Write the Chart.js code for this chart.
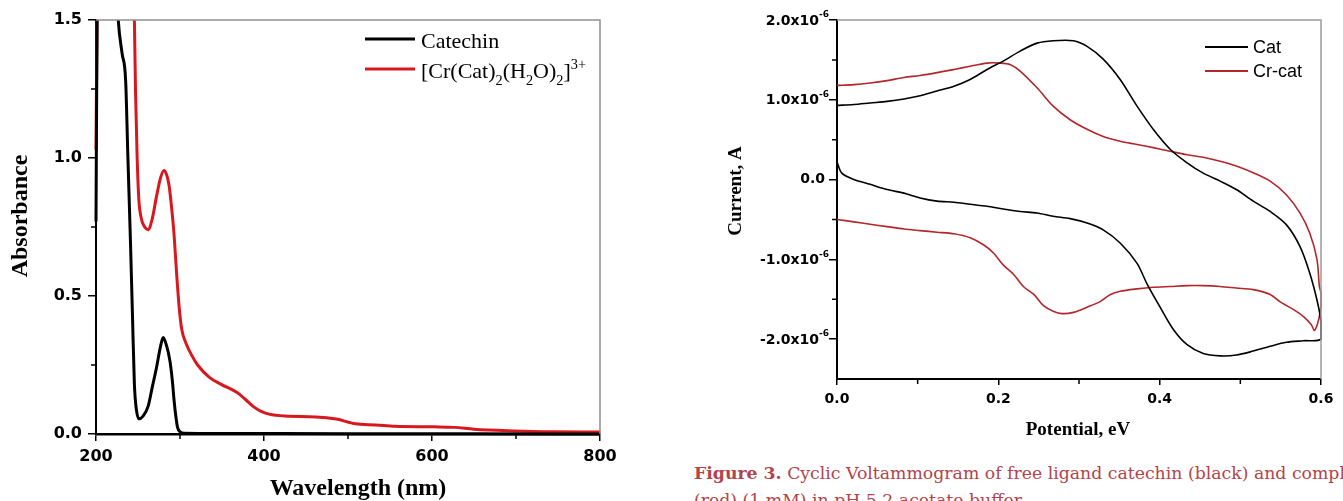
<!DOCTYPE html>
<html>
<head>
<meta charset="utf-8">
<script src="https://cdn.jsdelivr.net/npm/chart.js@4.4.0/dist/chart.umd.min.js"></script>
<style>
  body { margin: 0; background: #fff; width: 1343px; height: 501px; overflow: hidden; position: relative; }
  #uv { position: absolute; left: 0; top: 0; }
  #cv { position: absolute; left: 690px; top: 0; }
  .caption { position: absolute; left: 694px; width: 649px; white-space: nowrap; overflow: hidden;
             font-family: "DejaVu Serif", serif; font-size: 17.3px; line-height: 27px; color: #b3444a; }
  .caption b { font-weight: bold; }
</style>
</head>
<body>
<canvas id="uv" width="640" height="501"></canvas>
<canvas id="cv" width="653" height="450"></canvas>
<div class="caption" style="top:460px"><b>Figure 3.</b> Cyclic Voltammogram of free ligand catechin (black) and complex</div>
<div class="caption" style="top:487px">(red) (1 mM) in pH 5.2 acetate buffer.</div>

<script>
// UV-Vis spectra (left panel)
const catechinNm  = [200, 201.5, 205, 214, 222, 226.5, 231, 235.3, 238, 241, 243.5, 245.7, 248, 251, 256, 262, 267, 272, 277, 280, 284, 288, 291, 293, 295, 297, 300, 305, 350, 500, 650, 800];
const catechinAbs = [0.77, 1.6, 2.2, 2.2, 1.8, 1.5, 1.38, 1.28, 1.0, 0.7, 0.42, 0.18, 0.09, 0.055, 0.065, 0.10, 0.17, 0.24, 0.32, 0.35, 0.32, 0.265, 0.19, 0.12, 0.065, 0.025, 0.008, 0.003, 0.002, 0.001, 0.001, 0.0];

const complexNm  = [200, 201.5, 206, 238, 244.5, 245.7, 247, 249, 251, 254, 258, 262, 267, 272, 277, 281, 284, 287, 290, 293, 296, 299, 302, 307, 314, 321, 335, 349, 368, 378, 387, 396, 406, 425, 462, 486, 509, 533, 556, 603, 627, 650, 698, 745, 800];
const complexAbs = [1.03, 1.6, 2.4, 2.4, 1.6, 1.5, 1.25, 1.0, 0.85, 0.78, 0.75, 0.74, 0.78, 0.86, 0.93, 0.955, 0.94, 0.9, 0.82, 0.72, 0.58, 0.46, 0.38, 0.33, 0.285, 0.25, 0.205, 0.18, 0.15, 0.125, 0.10, 0.083, 0.072, 0.065, 0.062, 0.054, 0.037, 0.033, 0.028, 0.026, 0.024, 0.017, 0.011, 0.008, 0.007];

const uvMinorX = [300, 500, 700];
const uvMinorY = [0.25, 0.75, 1.25];

// Cyclic voltammograms (right panel), current in units of 1e-6 A
const catPotential = [0, 0.021, 0.041, 0.062, 0.083, 0.103, 0.124, 0.145, 0.165, 0.186, 0.206, 0.227, 0.248, 0.268, 0.293, 0.31, 0.33, 0.351, 0.372, 0.392, 0.413, 0.434, 0.454, 0.475, 0.495, 0.516, 0.537, 0.557, 0.574, 0.586, 0.595, 0.6,
                      0.6, 0.578, 0.557, 0.537, 0.516, 0.495, 0.475, 0.454, 0.434, 0.417, 0.4, 0.384, 0.372, 0.351, 0.33, 0.31, 0.289, 0.268, 0.248, 0.227, 0.206, 0.186, 0.165, 0.145, 0.124, 0.103, 0.083, 0.062, 0.041, 0.021, 0.006, 0];
const catCurrent = [0.93, 0.94, 0.96, 0.98, 1.01, 1.05, 1.11, 1.17, 1.255, 1.38, 1.485, 1.61, 1.71, 1.74, 1.74, 1.67, 1.51, 1.255, 0.92, 0.63, 0.38, 0.21, 0.08, -0.02, -0.125, -0.27, -0.40, -0.565, -0.84, -1.17, -1.51, -1.78,
                    -2.0, -2.02, -2.04, -2.09, -2.15, -2.20, -2.21, -2.18, -2.07, -1.88, -1.59, -1.30, -1.05, -0.795, -0.63, -0.545, -0.49, -0.46, -0.42, -0.40, -0.37, -0.335, -0.31, -0.285, -0.27, -0.23, -0.17, -0.125, -0.06, 0.0, 0.08, 0.22];

const crPotential = [0, 0.021, 0.041, 0.062, 0.083, 0.103, 0.124, 0.145, 0.165, 0.186, 0.202, 0.215, 0.227, 0.248, 0.268, 0.289, 0.31, 0.33, 0.351, 0.372, 0.392, 0.413, 0.434, 0.454, 0.475, 0.495, 0.516, 0.537, 0.557, 0.574, 0.586, 0.595, 0.598, 0.6,
                     0.6, 0.597, 0.592, 0.588, 0.578, 0.566, 0.549, 0.537, 0.516, 0.495, 0.475, 0.454, 0.434, 0.413, 0.392, 0.372, 0.351, 0.339, 0.326, 0.31, 0.293, 0.279, 0.268, 0.256, 0.244, 0.231, 0.219, 0.206, 0.194, 0.182, 0.165, 0.145, 0.124, 0.103, 0.083, 0.062, 0.041, 0.021, 0];
const crCurrent = [1.18, 1.19, 1.21, 1.24, 1.28, 1.305, 1.34, 1.38, 1.42, 1.46, 1.46, 1.44, 1.36, 1.15, 0.92, 0.75, 0.63, 0.54, 0.48, 0.44, 0.40, 0.355, 0.31, 0.28, 0.23, 0.17, 0.085, -0.02, -0.19, -0.42, -0.67, -1.00, -1.34, -1.42,
                   -1.59, -1.76, -1.89, -1.82, -1.715, -1.63, -1.53, -1.44, -1.38, -1.36, -1.34, -1.33, -1.33, -1.34, -1.35, -1.37, -1.40, -1.44, -1.53, -1.60, -1.665, -1.68, -1.65, -1.58, -1.44, -1.34, -1.19, -1.07, -0.92, -0.82, -0.73, -0.68, -0.66, -0.64, -0.62, -0.59, -0.56, -0.53, -0.50];

const cvMajorY = [-2, -1, 0, 1, 2];
const cvMinorX = [0.1, 0.3, 0.5];
const cvMinorY = [-1.5, -0.5, 0.5, 1.5];

function toPoints(xs, ys) {
    return xs.map((x, i) => ({ x: x, y: ys[i] }));
}

// draws a run of text pieces, some as sub/superscript
function drawRich(ctx, parts, x, y, size, family) {
    ctx.textAlign = 'left';
    ctx.textBaseline = 'alphabetic';
    parts.forEach(p => {
        let s = size, dy = 0;
        if (p[1] === 'sub') { s = size * 0.65; dy = size * 0.3; }
        if (p[1] === 'sup') { s = size * 0.65; dy = -size * 0.42; }
        ctx.font = s + 'px ' + family;
        ctx.fillText(p[0], x, y + dy);
        x += ctx.measureText(p[0]).width;
    });
}

function minorTicks(ctx, chart, xs, ys, len) {
    const a = chart.chartArea;
    const sx = chart.scales.x, sy = chart.scales.y;
    ctx.strokeStyle = '#000';
    ctx.lineWidth = 1.5;
    ctx.beginPath();
    xs.forEach(v => {
        const px = sx.getPixelForValue(v);
        ctx.moveTo(px, a.bottom); ctx.lineTo(px, a.bottom + len);
    });
    ys.forEach(v => {
        const py = sy.getPixelForValue(v);
        ctx.moveTo(a.left, py); ctx.lineTo(a.left - len, py);
    });
    ctx.stroke();
}

function frame(ctx, chart, color) {
    const a = chart.chartArea;
    ctx.strokeStyle = color;
    ctx.lineWidth = 1.5;
    ctx.beginPath();
    ctx.moveTo(a.left, a.top); ctx.lineTo(a.right, a.top); ctx.lineTo(a.right, a.bottom);
    ctx.stroke();
}

const tickFont = { family: "'DejaVu Sans', sans-serif", weight: 'bold', size: 16 };

const uvDecor = {
    id: 'uvDecor',
    afterDraw(chart) {
        const ctx = chart.ctx;
        ctx.save();
        frame(ctx, chart, '#8e8e8e');
        minorTicks(ctx, chart, uvMinorX, uvMinorY, 5);

        ctx.fillStyle = '#000';
        ctx.font = 'bold 24px "Liberation Serif"';
        ctx.textAlign = 'center';
        ctx.textBaseline = 'alphabetic';
        ctx.fillText('Wavelength (nm)', 358, 495);
        ctx.save();
        ctx.translate(27, 216);
        ctx.rotate(-Math.PI / 2);
        ctx.fillText('Absorbance', 0, 0);
        ctx.restore();

        // legend
        ctx.lineWidth = 3;
        ctx.strokeStyle = '#000';
        ctx.beginPath(); ctx.moveTo(365, 39); ctx.lineTo(415, 39); ctx.stroke();
        ctx.strokeStyle = '#d7191f';
        ctx.beginPath(); ctx.moveTo(365, 69); ctx.lineTo(415, 69); ctx.stroke();
        ctx.fillStyle = '#000';
        drawRich(ctx, [['Catechin']], 421, 48, 22, '"Liberation Serif"');
        drawRich(ctx, [['[Cr(Cat)'], ['2', 'sub'], ['(H'], ['2', 'sub'], ['O)'], ['2', 'sub'], [']'], ['3+', 'sup']], 421, 78, 22, '"Liberation Serif"');
        ctx.restore();
    }
};

const cvDecor = {
    id: 'cvDecor',
    afterDraw(chart) {
        const ctx = chart.ctx;
        const a = chart.chartArea;
        ctx.save();
        frame(ctx, chart, '#9a9a9a');
        minorTicks(ctx, chart, cvMinorX, cvMinorY, 5);

        // y tick labels in 1.0x10^-6 form
        ctx.fillStyle = '#000';
        cvMajorY.forEach(v => {
            const py = chart.scales.y.getPixelForValue(v);
            const xr = a.left - 8;
            ctx.textAlign = 'right';
            ctx.textBaseline = 'middle';
            if (v === 0) {
                ctx.font = "bold 14px 'DejaVu Sans'";
                ctx.fillText('0.0', xr - 4, py);
                return;
            }
            ctx.font = "bold 9px 'DejaVu Sans'";
            const supW = ctx.measureText('-6').width;
            ctx.fillText('-6', xr, py - 5);
            ctx.font = "bold 14px 'DejaVu Sans'";
            ctx.fillText(v.toFixed(1) + 'x10', xr - supW, py + 1);
        });

        ctx.font = 'bold 19px "Liberation Serif"';
        ctx.textAlign = 'center';
        ctx.textBaseline = 'alphabetic';
        ctx.fillText('Potential, eV', 388, 435);
        ctx.save();
        ctx.translate(51, 191);
        ctx.rotate(-Math.PI / 2);
        ctx.fillText('Current, A', 0, 0);
        ctx.restore();

        // legend
        ctx.lineWidth = 2;
        ctx.strokeStyle = '#000';
        ctx.beginPath(); ctx.moveTo(515, 47); ctx.lineTo(558, 47); ctx.stroke();
        ctx.strokeStyle = '#b3262b';
        ctx.beginPath(); ctx.moveTo(515, 71); ctx.lineTo(558, 71); ctx.stroke();
        ctx.fillStyle = '#000';
        drawRich(ctx, [['Cat']], 563, 53, 18, '"Liberation Sans"');
        drawRich(ctx, [['Cr-cat']], 563, 77, 18, '"Liberation Sans"');
        ctx.restore();
    }
};

new Chart(document.getElementById('uv'), {
    type: 'scatter',
    data: {
        datasets: [
            { label: 'Catechin', data: toPoints(catechinNm, catechinAbs), showLine: true, borderColor: '#000', borderWidth: 3,
              pointRadius: 0, cubicInterpolationMode: 'monotone', clip: { left: 2, top: 0, right: 0, bottom: 3 } },
            { label: 'Complex', data: toPoints(complexNm, complexAbs), showLine: true, borderColor: '#d7191f', borderWidth: 3,
              pointRadius: 0, cubicInterpolationMode: 'monotone', clip: { left: 2, top: 0, right: 0, bottom: 3 } }
        ]
    },
    options: {
        responsive: false,
        animation: false,
        devicePixelRatio: 1,
        layout: { padding: { top: 20, right: 40, left: 0, bottom: 0 } },
        plugins: { legend: { display: false }, tooltip: { enabled: false } },
        scales: {
            x: {
                type: 'linear', min: 200, max: 800,
                afterFit: s => { s.height = 67; },
                border: { color: '#000', width: 2.5 },
                grid: { drawOnChartArea: false, drawTicks: true, tickLength: 7, color: '#000', lineWidth: 1.5 },
                ticks: { stepSize: 200, padding: 6, color: '#000', font: tickFont, maxRotation: 0 }
            },
            y: {
                min: 0, max: 1.5,
                afterFit: s => { s.width = 96; },
                border: { color: '#000', width: 2 },
                grid: { drawOnChartArea: false, drawTicks: true, tickLength: 8, color: '#000', lineWidth: 1.5 },
                ticks: { stepSize: 0.5, padding: 6, color: '#000', font: tickFont, callback: v => v.toFixed(1) }
            }
        }
    },
    plugins: [uvDecor]
});

new Chart(document.getElementById('cv'), {
    type: 'scatter',
    data: {
        datasets: [
            { label: 'Cat', data: toPoints(catPotential, catCurrent), showLine: true, borderColor: '#000', borderWidth: 1.6,
              pointRadius: 0, tension: 0.3, clip: 2 },
            { label: 'Cr-cat', data: toPoints(crPotential, crCurrent), showLine: true, borderColor: '#b3262b', borderWidth: 1.6,
              pointRadius: 0, tension: 0.3, clip: 2 }
        ]
    },
    options: {
        responsive: false,
        animation: false,
        devicePixelRatio: 1,
        layout: { padding: { top: 20, right: 22, left: 0, bottom: 0 } },
        plugins: { legend: { display: false }, tooltip: { enabled: false } },
        scales: {
            x: {
                type: 'linear', min: 0, max: 0.6,
                afterFit: s => { s.height = 71; },
                border: { color: '#000', width: 2 },
                grid: { drawOnChartArea: false, drawTicks: true, tickLength: 6, color: '#000', lineWidth: 1.5 },
                ticks: { stepSize: 0.2, padding: 6, color: '#000', font: { family: "'DejaVu Sans', sans-serif", weight: 'bold', size: 14 },
                         maxRotation: 0, callback: v => v.toFixed(1) }
            },
            y: {
                min: -2.5, max: 2,
                afterFit: s => { s.width = 147; },
                afterBuildTicks: s => { s.ticks = cvMajorY.map(v => ({ value: v })); },
                border: { color: '#000', width: 2 },
                grid: { drawOnChartArea: false, drawTicks: true, tickLength: 8, color: '#000', lineWidth: 1.5 },
                ticks: { display: false }
            }
        }
    },
    plugins: [cvDecor]
});
</script>
</body>
</html>
